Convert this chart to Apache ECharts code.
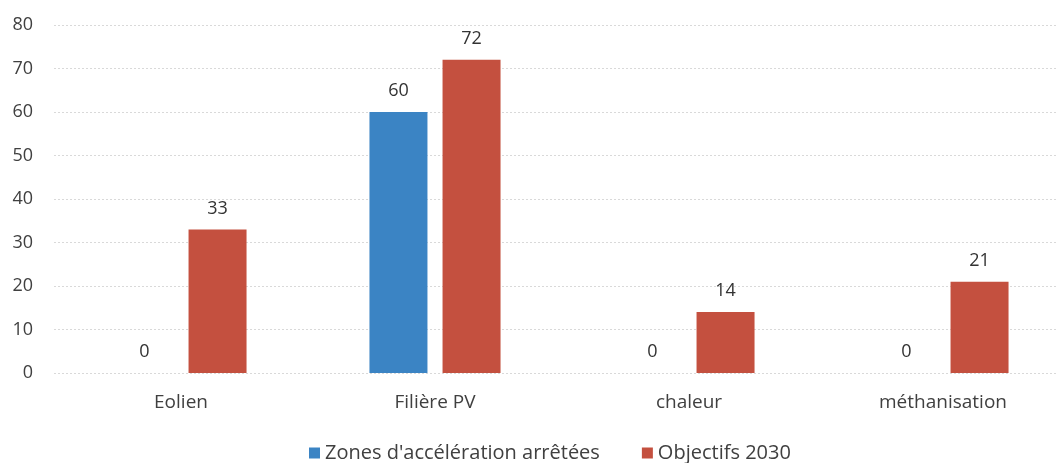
<!DOCTYPE html>
<html>
<head>
<meta charset="utf-8">
<script src="https://cdn.jsdelivr.net/npm/echarts@6/dist/echarts.min.js"></script>
<style>
	html, body { margin: 0; padding: 0; background: #fff; }
	#EChart { width: 1058px; height: 463px; }
</style>
</head>
<body>
<div id="EChart"></div>
<script>
var categories = ['Eolien', 'Filière PV', 'chaleur', 'méthanisation'];
var zonesValues = [0, 60, 0, 0];
var objectifsValues = [33, 72, 14, 21];
var seriesNames = ["Zones d'accélération arrêtées", 'Objectifs 2030'];

(function () {
	var chart = echarts.init(document.getElementById('EChart'));
	var font = '"Open Sans", "Noto Sans", sans-serif';

	var option = {
		animation: false,
		color: ['#3b84c4', '#c4503f'],
		textStyle: { fontFamily: font },
		legend: {
			top: 438,
			left: 304,
			itemWidth: 11,
			itemHeight: 11,
			itemGap: 42,
			icon: 'rect',
			textStyle: { fontSize: 20, color: '#404040', fontFamily: font },
			data: seriesNames
		},
		grid: {
			left: 54,
			width: 1016,
			top: 25,
			bottom: 90,
			containLabel: false,
			outerBoundsMode: 'none'
		},
		xAxis: {
			type: 'category',
			data: categories,
			axisTick: { show: false },
			axisLine: { show: false },
			axisLabel: { fontSize: 19, color: '#404040', margin: 20, fontFamily: font }
		},
		yAxis: {
			type: 'value',
			min: 0,
			max: 80,
			interval: 10,
			axisLine: { show: false },
			axisTick: { show: false },
			axisLabel: { fontSize: 18, color: '#404040', margin: 21, fontFamily: font },
			splitLine: { lineStyle: { color: '#d9d9d9', type: [2, 2] } }
		},
		series: [
			{
				name: seriesNames[0],
				type: 'bar',
				barWidth: 58,
				barGap: '26%',
				data: zonesValues,
				label: { show: true, position: 'top', distance: 12, fontSize: 18, color: '#333', fontFamily: font }
			},
			{
				name: seriesNames[1],
				type: 'bar',
				barWidth: 58,
				data: objectifsValues,
				label: { show: true, position: 'top', distance: 12, fontSize: 18, color: '#333', fontFamily: font }
			}
		]
	};

	chart.setOption(option);
})();
</script>
</body>
</html>
